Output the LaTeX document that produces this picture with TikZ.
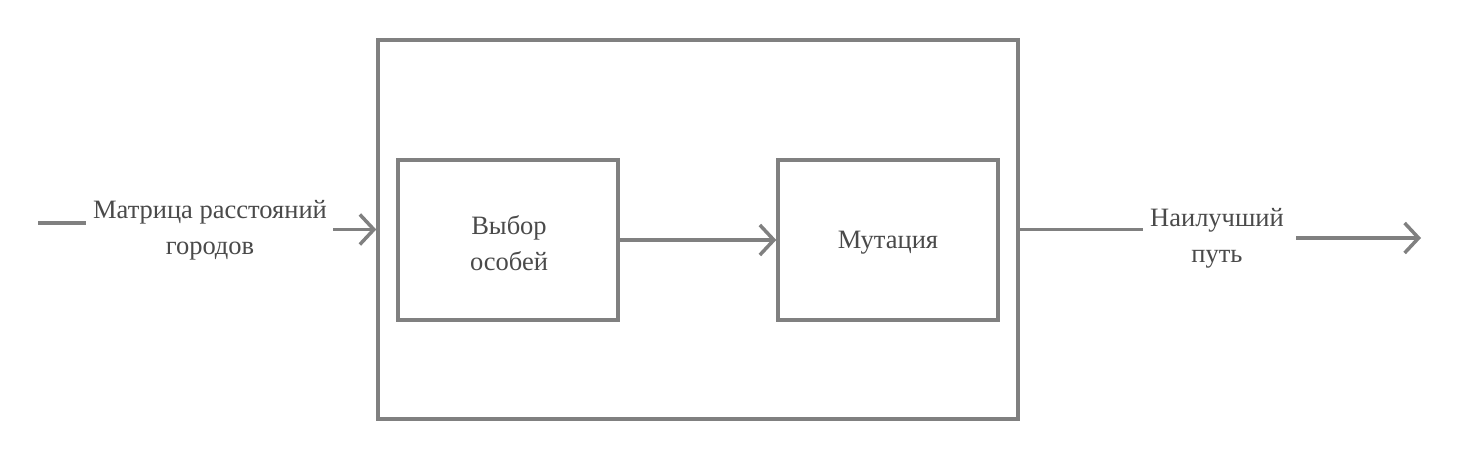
\documentclass[tikz,border=0pt]{standalone}
\usepackage{fontspec}
\setmainfont{Liberation Serif}
\usetikzlibrary{arrows.meta}
\definecolor{linegray}{HTML}{808080}
\definecolor{textgray}{HTML}{4A4A4A}
\tikzset{
  block/.style={draw=linegray, line width=3.5pt, inner sep=0pt, fill=white},
  lbl/.style={align=center, text=textgray, font=\fontsize{26.5}{36}\selectfont, inner sep=3pt},
  flow/.style={draw=linegray, line width=3.5pt, -{Straight Barb[length=14pt,width=30pt]}},
  wire/.style={draw=linegray, line width=3.5pt}
}
\begin{document}
\begin{tikzpicture}[x=1pt,y=-1pt]
            \useasboundingbox (0,0) rectangle (1460,460);

            % outer box and the two stages
            \node[block, minimum width=640pt, minimum height=379pt] (algo) at (698,229.5) {};
            \node[block, minimum width=220pt, minimum height=160pt] (select) at (508,240) {};
            \node[block, minimum width=220pt, minimum height=160pt] (mutate) at (888,240) {};
            \node[lbl] (selectTxt) at (509,243) {Выбор\\особей};
            \node[lbl] (mutateTxt) at (888,243) {Мутация};

            % input
            \coordinate (inStart) at (38,223);
            \node[lbl] (inTxt) at (210,230) {Матрица расстояний\\городов};
            \draw[wire] (inStart) -- (inStart -| 86,0);
            \draw[flow] (333,229.5) -- (algo.west);

            % stage link
            \draw[flow] (select.east) -- (mutate.west);

            % output
            \node[lbl] (outTxt) at (1217,238) {Наилучший\\путь};
            \coordinate (outEnd) at (1421,238);
            \draw[wire] (algo.east) -- (1143,229.5);
            \draw[flow] (outEnd -| 1296,0) -- (outEnd);
            \end{tikzpicture}
\end{document}
